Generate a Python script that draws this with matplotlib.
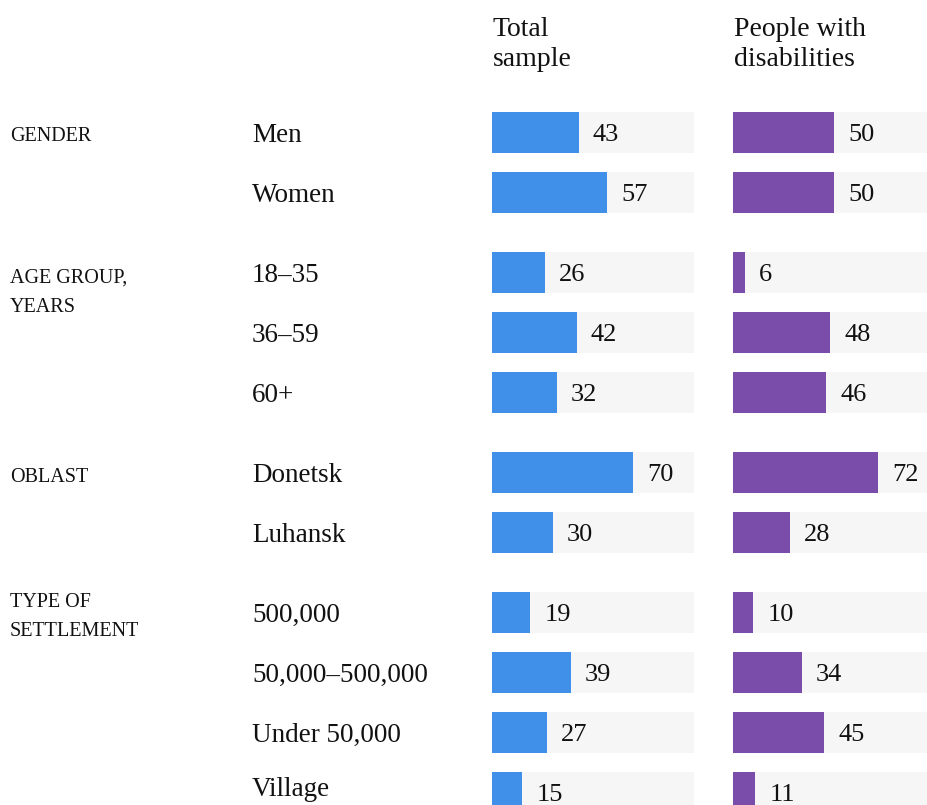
import matplotlib.pyplot as plt

# data
group_labels = [["GENDER"], ["AGE GROUP,", "YEARS"], ["OBLAST"], ["TYPE OF", "SETTLEMENT"]]
group_sizes = [2, 3, 2, 4]
categories = ["Men", "Women", "18–35", "36–59", "60+", "Donetsk", "Luhansk",
              "500,000", "50,000–500,000", "Under 50,000", "Village"]
total_sample = [43, 57, 26, 42, 32, 70, 30, 19, 39, 27, 15]
disabilities = [50, 50, 6, 48, 46, 72, 28, 10, 34, 45, 11]
headers = [["Total", "sample"], ["People with", "disabilities"]]

# layout (pixels)
W, H = 928, 805
FONT = "Liberation Serif"
INK = "#111111"
GRAY = "#f6f6f6"
colors = ["#4090ea", "#7b4dab"]
col_left = [492, 733]
col_width = 202
first_row = 132.5
row_step = 60
group_gap = 20
bar_h = 41
group_dy = [8.5, 10.5, 9.5, -5.5]

# row centres from group structure
rows = []
group_first = []
y = first_row
for n in group_sizes:
    group_first.append(y)
    for i in range(n):
        rows.append(y)
        y += row_step
    y += group_gap

fig = plt.figure(figsize=(W / 100, H / 100), dpi=100)
base = fig.add_axes([0, 0, 1, 1])
base.set_xlim(0, W)
base.set_ylim(H, 0)
base.axis("off")

# group labels
for lines, y0, dy in zip(group_labels, group_first, group_dy):
    for k, line in enumerate(lines):
        base.text(10, y0 + dy + k * 29, line, family=FONT, fontsize=14.5,
                  color=INK, va="baseline", ha="left")

# category labels (last one kept inside the frame)
for cat, yc in zip(categories, rows):
    base.text(252, min(yc + 9, H - 9), cat, family=FONT, fontsize=19.5,
              color=INK, va="baseline", ha="left")

# column headers
for hdr, x0 in zip(headers, col_left):
    for k, line in enumerate(hdr):
        base.text(x0 + 1, 36 + k * 30, line, family=FONT, fontsize=20,
                  color=INK, va="baseline", ha="left")

# bars
for vals, x0, c in zip([total_sample, disabilities], col_left, colors):
    ax = fig.add_axes([x0 / W, 0, col_width / W, 1])
    ax.set_xlim(0, 100)
    ax.set_ylim(H, 0)
    ax.axis("off")
    ax.barh(rows, [100] * len(rows), height=bar_h, color=GRAY, linewidth=0)
    ax.barh(rows, vals, height=bar_h, color=c, linewidth=0)
    for v, yc in zip(vals, rows):
        ax.text(v + 7, yc + 8.5, str(v), family=FONT, fontsize=19,
                color=INK, va="baseline", ha="left")

fig.savefig("out.png", dpi=100)
